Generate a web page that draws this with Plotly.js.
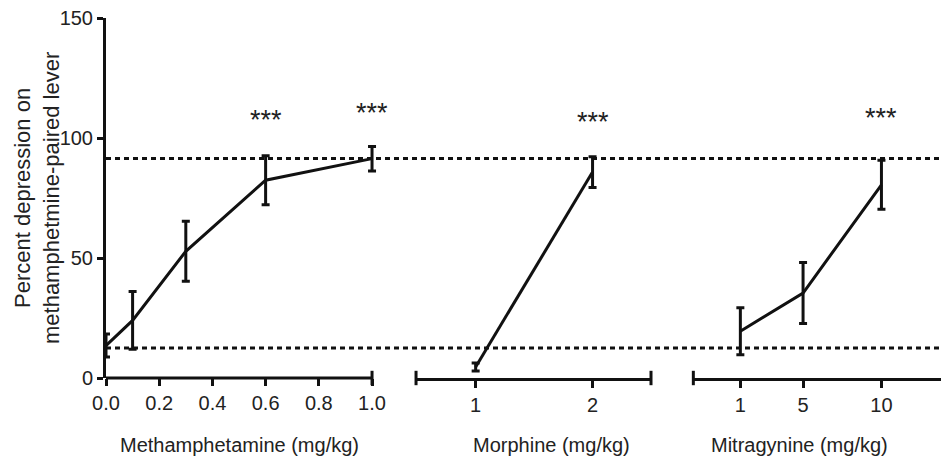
<!DOCTYPE html>
<html>
<head>
<meta charset="utf-8">
<script src="https://cdn.plot.ly/plotly-3.0.1.min.js"></script>
<style>html,body{margin:0;padding:0;background:#fff;}#chart{width:941px;height:473px;}</style>
</head>
<body>
<div id="chart"></div>
<script>
// Methamphetamine
const methDose = [0, 0.1, 0.3, 0.6, 1.0];
const methMean = [13.5, 24, 52.8, 82.4, 91.4];
const methErr  = [4.8, 12, 12.5, 10.2, 5.1];
// Morphine
const morDose = [1, 2];
const morMean = [4.6, 85.8];
const morErr  = [1.7, 6.4];
// Mitragynine
const mitDose = [1, 5, 10];
const mitMean = [19.5, 35.4, 80.5];
const mitErr  = [9.8, 12.7, 10.2];
// Reference levels (dotted lines)
const refLevels = [91.5, 12.5];
// Significance markers
const sigLabel = '***';
const sigMeth = {x: [0.6, 1.0], y: [107.5, 110.5]};
const sigMor  = {x: [2], y: [106.5]};
const sigMit  = {x: [10], y: [108.2]};
// Tick labels
const methTicks = [0, 0.2, 0.4, 0.6, 0.8, 1.0];
const methTickText = ['0.0', '0.2', '0.4', '0.6', '0.8', '1.0'];
const morTicks = [1, 2];
const mitTicks = [1, 5, 10];
const yTicks = [0, 50, 100, 150];

const ink = '#111';
const txt = '#222';
const FONT = 'Liberation Sans, Arial, sans-serif';

function trace(x, y, e, xa) {
  return {
    x: x, y: y, xaxis: xa, yaxis: 'y', type: 'scatter', mode: 'lines',
    line: {color: ink, width: 3},
    error_y: {type: 'data', array: e, visible: true, color: ink, thickness: 3, width: 4},
    hoverinfo: 'skip', showlegend: false, cliponaxis: false
  };
}

const data = [
  trace(methDose, methMean, methErr, 'x'),
  trace(morDose, morMean, morErr, 'x2'),
  trace(mitDose, mitMean, mitErr, 'x3')
];

const annotations = [];
function addSig(s, xa) {
  s.x.forEach((xv, i) => annotations.push({
    x: xv, y: s.y[i], xref: xa, yref: 'y', text: sigLabel, showarrow: false,
    xanchor: 'center', yanchor: 'middle', font: {family: FONT, size: 27, color: txt}
  }));
}
addSig(sigMeth, 'x'); addSig(sigMor, 'x2'); addSig(sigMit, 'x3');

const titles = [
  {text: 'Methamphetamine (mg/kg)', x: 0.1593},
  {text: 'Morphine (mg/kg)', x: 0.533},
  {text: 'Mitragynine (mg/kg)', x: 0.831}
];
titles.forEach(t => annotations.push({
  x: t.x, y: -0.187, xref: 'paper', yref: 'paper', text: t.text, showarrow: false,
  xanchor: 'center', yanchor: 'middle', font: {family: FONT, size: 20, color: txt}
}));
annotations.push({
  x: -0.0826, y: 0.5, xref: 'paper', yref: 'paper', textangle: -90,
  text: 'Percent depression on<br>methamphetmine-paired lever', showarrow: false,
  xanchor: 'center', yanchor: 'middle', font: {family: FONT, size: 22, color: txt}
});

const shapes = [];
refLevels.forEach(v => shapes.push({
  type: 'line', xref: 'paper', yref: 'y', x0: 0, x1: 1, y0: v, y1: v,
  line: {color: ink, width: 3, dash: '5px,4px'}
}));
// methamphetamine axis line drawn only across its dose range (axis domain is padded so error caps are not clipped)
shapes.push({
  type: 'line', xref: 'x', yref: 'paper', x0: methTicks[0], x1: methTicks[methTicks.length - 1], y0: 0, y1: 0,
  line: {color: ink, width: 3}
});
const capH = 0.02;
shapes.push({
  type: 'line', xref: 'x', yref: 'paper', x0: methTicks[methTicks.length - 1], x1: methTicks[methTicks.length - 1], y0: -capH, y1: capH,
  line: {color: ink, width: 3}
});
[['x2 domain', 0], ['x2 domain', 1], ['x3 domain', 0]].forEach(c => shapes.push({
  type: 'line', xref: c[0], yref: 'paper', x0: c[1], x1: c[1], y0: -capH, y1: capH,
  line: {color: ink, width: 3}
}));

const xCommon = {
  showline: true, linewidth: 3, linecolor: ink, showgrid: false, zeroline: false,
  ticks: 'outside', ticklen: 7, tickwidth: 3, tickcolor: ink,
  tickfont: {family: FONT, size: 20, color: txt}, anchor: 'y', fixedrange: true
};

// x1: 0..1 spans 266 px; pad 8 px to the right for the error-bar cap
const pad = 8 / 266;
const layout = {
  width: 941, height: 473,
  margin: {l: 106, r: 0, t: 18, b: 95},
  paper_bgcolor: '#fff', plot_bgcolor: '#fff',
  showlegend: false,
  xaxis: Object.assign({}, xCommon, {showline: false, domain: [0, 0.3186 * (1 + pad)], range: [0, 1 + pad], tickmode: 'array', tickvals: methTicks, ticktext: methTickText}),
  xaxis2: Object.assign({}, xCommon, {domain: [0.3713, 0.6527], range: [0.49, 2.5], tickmode: 'array', tickvals: morTicks}),
  xaxis3: Object.assign({}, xCommon, {domain: [0.7034, 1], range: [-2, 13.8], tickmode: 'array', tickvals: mitTicks}),
  yaxis: {
    domain: [0, 1], range: [0, 150], anchor: 'x', showline: true, linewidth: 3, linecolor: ink,
    showgrid: false, zeroline: false, ticks: 'outside', ticklen: 6, tickwidth: 3, tickcolor: ink,
    tickmode: 'array', tickvals: yTicks, tickfont: {family: FONT, size: 20, color: txt}, fixedrange: true
  },
  annotations: annotations,
  shapes: shapes
};

Plotly.newPlot('chart', data, layout, {displayModeBar: false, staticPlot: true});
</script>
</body>
</html>
